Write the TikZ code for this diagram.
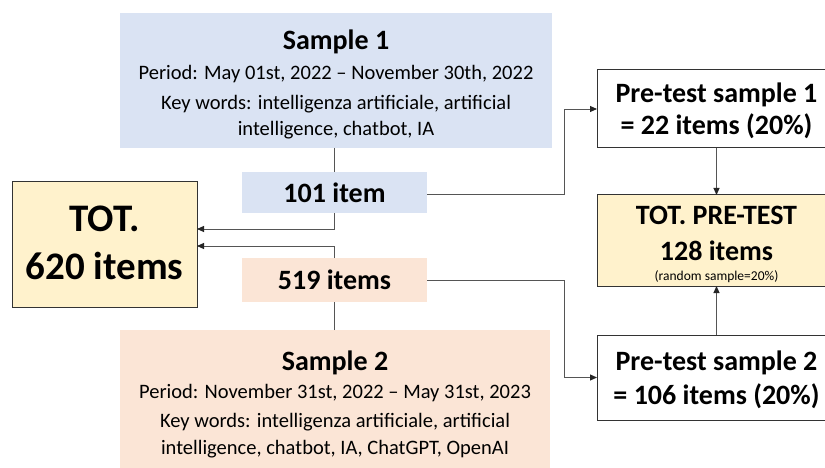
\documentclass[tikz,border=0pt]{standalone}
\usepackage{fontspec}
\setmainfont{Carlito}
\usetikzlibrary{arrows.meta}
\definecolor{sblue}{HTML}{DAE3F3}
\definecolor{speach}{HTML}{FBE5D6}
\definecolor{syellow}{HTML}{FFF2CC}
\definecolor{lin}{HTML}{555555}
\begin{document}
\begin{tikzpicture}[x=1pt,y=-1pt,
  fillbox/.style={rectangle, inner sep=0pt, outer sep=0pt},
  wbox/.style={rectangle, draw=black!80, line width=1pt, inner sep=0pt, outer sep=0pt},
  bigt/.style={font=\fontsize{28}{28}\selectfont\bfseries, anchor=base, inner sep=0pt},
  huget/.style={font=\fontsize{39}{39}\selectfont\bfseries, anchor=base, inner sep=0pt},
  smt/.style={font=\fontsize{20.5}{20.5}\selectfont, anchor=base, inner sep=0pt},
  tinyt/.style={font=\fontsize{13.5}{13.5}\selectfont, anchor=base, inner sep=0pt},
  conn/.style={draw=lin, line width=0.9pt},
  arr/.style={conn, -{Triangle[length=7pt,width=6pt,color=black!85]}}]
\useasboundingbox (0,0) rectangle (825,468);
\fill[white] (0,0) rectangle (825,468);

% Sample 1
\node[fillbox, fill=sblue, minimum width=432pt, minimum height=135pt] (s1) at (336,80.5) {};
\node[bigt] (s1a) at (336,50) {Sample 1};
\node[smt] (s1b) at (336,80) {Period: May 01st, 2022 – November 30th, 2022};
\node[smt] (s1c) at (336,110) {Key words: intelligenza artificiale, artificial};
\node[smt] (s1d) at (336,136) {intelligence, chatbot, IA};

% 101 item
\node[fillbox, fill=sblue, minimum width=185pt, minimum height=41pt] (i101) at (334.5,192.5) {};
\node[bigt] (i101t) at (334.5,203) {101 item};

% 519 items
\node[fillbox, fill=speach, minimum width=185pt, minimum height=44pt] (i519) at (334.5,280) {};
\node[bigt] (i519t) at (334.5,289) {519 items};

% Sample 2
\node[fillbox, fill=speach, minimum width=430pt, minimum height=140pt] (s2) at (335,400) {};
\node[bigt] (s2a) at (335,370) {Sample 2};
\node[smt] (s2b) at (335,398) {Period: November 31st, 2022 – May 31st, 2023};
\node[smt] (s2c) at (335,427) {Key words: intelligenza artificiale, artificial};
\node[smt] (s2d) at (335,454) {intelligence, chatbot, IA, ChatGPT, OpenAI};

% TOT
\node[wbox, fill=syellow, minimum width=185pt, minimum height=125pt] (tot) at (104.5,244.5) {};
\node[huget] (tota) at (104.5,231) {TOT.};
\node[huget] (totb) at (104.5,279) {620 items};

% right column
\node[wbox, fill=white, minimum width=239pt, minimum height=78pt] (p1) at (716.5,109) {};
\node[bigt] (p1a) at (716.5,103) {Pre-test sample 1};
\node[bigt] (p1b) at (716.5,135) {= 22 items (20\%)};

\node[wbox, fill=syellow, minimum width=239pt, minimum height=91pt] (tp) at (716.5,240.5) {};
\node[bigt] (tpa) at (716.5,225) {TOT. PRE-TEST};
\node[bigt] (tpb) at (716.5,260) {128 items};
\node[tinyt] (tpc) at (716.5,280) {(random sample=20\%)};

\node[wbox, fill=white, minimum width=239pt, minimum height=85pt] (p2) at (716.5,377.5) {};
\node[bigt] (p2a) at (716.5,370) {Pre-test sample 2};
\node[bigt] (p2b) at (716.5,404) {= 106 items (20\%)};

% connectors
\coordinate (ya) at (0,229);
\coordinate (yb) at (0,246);
\coordinate (xk) at (564,0);

\draw[conn] (i101.north |- s1.south) -- (i101.north);
\draw[arr] (i101.south) |- (tot.east |- ya);
\draw[conn] (i519.south |- s2.north) -- (i519.south);
\draw[arr] (i519.north) |- (tot.east |- yb);

\draw[arr] (i101.east |- 0,194) -| (xk |- p1.west) -- (p1.west);
\draw[arr] (i519.east) -| (xk |- p2.west) -- (p2.west);

\draw[arr] (p1.south) -- (tp.north);
\draw[arr] (p2.north) -- (tp.south);
\end{tikzpicture}
\end{document}
